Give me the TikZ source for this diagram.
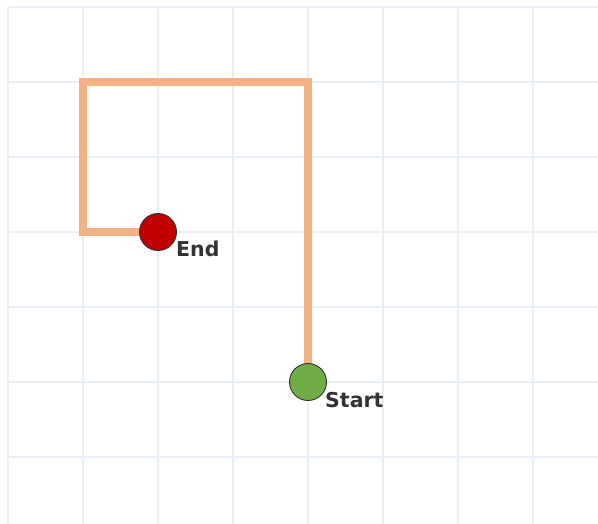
\documentclass[tikz,border=0pt]{standalone}
\usepackage{fontspec}
\setmainfont{DejaVu Sans}
\definecolor{gridc}{HTML}{E8EFF7}
\definecolor{pathc}{HTML}{F4B183}
\definecolor{endc}{HTML}{C00000}
\definecolor{startc}{HTML}{70AD47}
\definecolor{labc}{HTML}{333333}
\tikzset{
  gridline/.style={gridc, line width=1.5pt},
  route/.style={pathc, line width=7.5pt, line join=miter},
  dot/.style={circle, draw=black!80, line width=0.9pt, minimum size=37pt, inner sep=0pt},
  lab/.style={anchor=base west, inner sep=0pt, text=labc, font=\bfseries\fontsize{20.5}{24}\selectfont}
}
\begin{document}
\begin{tikzpicture}[x=1pt, y=-1pt]
\useasboundingbox (0,0) rectangle (598,524);
\fill[white] (0,0) rectangle (598,524);
\foreach \i in {0,...,7} {\draw[gridline] (8+75*\i,7) -- (8+75*\i,524);}
\foreach \j in {0,...,6} {\draw[gridline] (8,7+75*\j) -- (598,7+75*\j);}
\coordinate (s) at (308,382);
\coordinate (e) at (158,232);
\coordinate (c1) at (308,82);
\coordinate (c2) at (83,82);
\coordinate (c3) at (83,232);
\draw[route] (s) -- (c1) -- (c2) -- (c3) -- (e);
\node[dot, fill=endc] (endn) at (e) {};
\node[dot, fill=startc] (startn) at (s) {};
\node[lab] (endl) at (176,257) {End};
\node[lab] (startl) at (325,407) {Start};
\end{tikzpicture}
\end{document}
